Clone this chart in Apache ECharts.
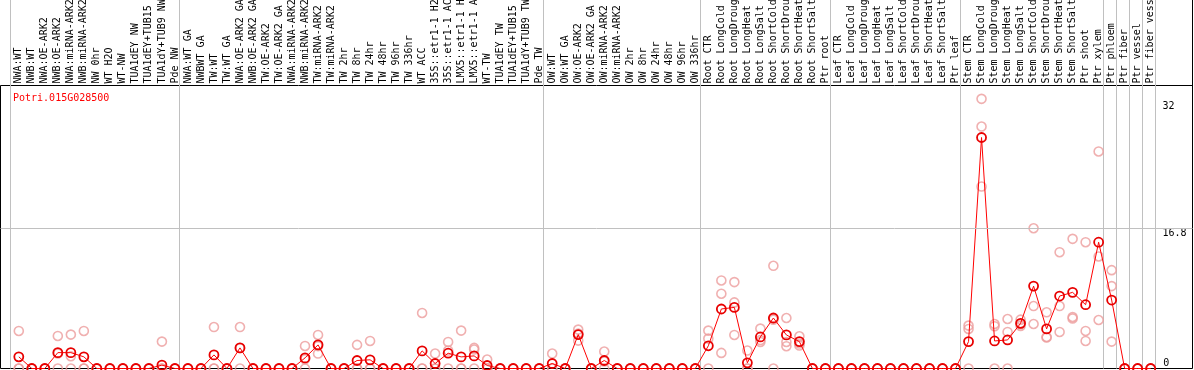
<!DOCTYPE html>
<html><head><meta charset="utf-8">
<script src="https://cdn.jsdelivr.net/npm/echarts@6/dist/echarts.min.js"></script>
<style>html,body{margin:0;padding:0;background:#fff}#c{width:1194px;height:370px}</style>
</head><body><div id="c"></div>
<script>
const geneName = 'Potri.015G028500';
const categories = [
  'NWA:WT','NWB:WT','NWA:OE-ARK2','NWB:OE-ARK2','NWA:miRNA-ARK2','NWB:miRNA-ARK2','NW 0hr','WT H2O','WT-NW','TUA1dEY NW','TUA1dEY+TUB15 NW','TUA1dY+TUB9 NW','Pde NW',
  'NWA:WT GA','NWBWT GA','TW:WT','TW:WT GA','NWA:OE-ARK2 GA','NWB:OE-ARK2 GA','TW:OE-ARK2','TW:OE-ARK2 GA','NWA:miRNA-ARK2','NWB:miRNA-ARK2','TW:miRNA-ARK2','TW:miRNA-ARK2','TW 2hr','TW 8hr','TW 24hr','TW 48hr','TW 96hr','TW 336hr','WT ACC','35S::etr1-1 H2O','35S::etr1-1 ACC','LMX5::etr1-1 H2O','LMX5::etr1-1 ACC','WT-TW','TUA1dEY TW','TUA1dEY+TUB15 TW','TUA1dY+TUB9 TW','Pde TW',
  'OW:WT','OW:WT GA','OW:OE-ARK2','OW:OE-ARK2 GA','OW:miRNA-ARK2','OW:miRNA-ARK2','OW 2hr','OW 8hr','OW 24hr','OW 48hr','OW 96hr','OW 336hr',
  'Root CTR','Root LongCold','Root LongDrought','Root LongHeat','Root LongSalt','Root ShortCold','Root ShortDrought','Root ShortHeat','Root ShortSalt','Ptr root',
  'Leaf CTR','Leaf LongCold','Leaf LongDrought','Leaf LongHeat','Leaf LongSalt','Leaf ShortCold','Leaf ShortDrought','Leaf ShortHeat','Leaf ShortSalt','Ptr leaf',
  'Stem CTR','Stem LongCold','Stem LongDrought','Stem LongHeat','Stem LongSalt','Stem ShortCold','Stem ShortDrought','Stem ShortHeat','Stem ShortSalt','Ptr shoot','Ptr xylem',
  'Ptr phloem','Ptr fiber','Ptr vessel','Ptr fiber vessel'
];
// index of the first category of each separated group
const groupStarts = [0, 13, 41, 53, 63, 73, 84, 85, 86, 87];

const meanValues = [
  1.4,0,0,1.9,1.9,1.4,0,0,0,0,0,0.4,0,
  0,0,1.63,0,2.47,0,0,0,0,1.27,2.83,0,0,0.96,1.04,0,0,0,2.11,0.6,1.83,1.39,1.51,0.36,0,0,0,0,
  0.6,0,4.06,0,0.96,0,0,0,0,0,0,0,
  2.72,7.13,7.32,0.68,3.78,6.05,4.02,3.22,0,0,
  0,0,0,0,0,0,0,0,0,0,
  3.22,27.67,3.3,3.42,5.41,9.87,4.74,8.68,9.12,7.64,15.13,
  8.2,0,0,0
];
const rep1 = [
  4.5,0,0,3.9,4.06,4.5,0,0,0,0,0,3.22,0,
  0,0,4.97,0,4.97,0,0,0,0,2.7,4.02,0,0,2.83,3.3,0,0,0,6.65,1.79,3.18,4.54,2.47,1.07,0,0,0,0,
  1.79,0,4.66,0,2.03,0,0,0,0,0,0,0,
  4.54,10.55,10.35,2.15,4.78,12.3,6.05,3.86,0,0,
  0,0,0,0,0,0,0,0,0,0,
  5.14,32.3,5.33,5.93,5.85,16.8,6.73,13.93,15.53,15.13,26.0,
  11.78,0,0,0
];
const rep2 = [
  0,0,0,1.8,1.47,0,0,0,0,0,0,0,0,
  0,0,0,0,2.45,0,0,0,0,1.1,2.68,0,0,0,0,0,0,0,0,0,2.15,0,2.27,0,0,0,0,0,
  0,0,4.2,0,0.85,0,0,0,0,0,0,0,
  3.58,8.96,7.92,0,3.4,5.85,3.18,3.0,0,0,
  0,0,0,0,0,0,0,0,0,0,
  4.74,28.98,5.07,4.38,5.3,7.48,3.78,7.48,6.17,4.5,13.42,
  9.87,0,0,0
];
const rep3 = [
  0,0,0,0,0,0,0,0,0,0,0,0,0,
  0,0,0,0,0,0,0,0,0,0,1.79,0,0,0,0,0,0,0,0,0,0,0,0,0,0,0,0,0,
  0,0,3.34,0,0,0,0,0,0,0,0,0,
  0,1.87,4.02,0,3.18,0,2.67,2.75,0,0,
  0,0,0,0,0,0,0,0,0,0,
  0,21.8,0,0,5.1,5.33,3.71,4.38,6.0,3.3,5.81,
  3.22,0,0,0
];
const yUpperTicks = [32, 16.8];
const yZeroTick = [0];
const gridLineValue = 16.8;

const FONT = 'DejaVu Sans Mono';
const Y_MAX = 33.9;
const PLOT_H = 283;
const SEP_MAX = Y_MAX * (PLOT_H + 85.5) / PLOT_H;
const BAND = 13.01;
const N = categories.length;

const chart = echarts.init(document.getElementById('c'), null, {renderer: 'canvas'});
const repStyle = {color: 'rgba(0,0,0,0)', borderColor: '#ec9c9c', borderWidth: 1.6};
function repSeries(arr) {
  return {type: 'scatter', xAxisIndex: 1, yAxisIndex: 1, data: arr, symbol: 'circle',
    symbolSize: 9, itemStyle: repStyle, clip: false, silent: true, z: 3};
}
chart.setOption({
  animation: false,
  title: {text: geneName, left: 8, top: 88,
    textStyle: {color: '#ff0000', fontSize: 10, fontFamily: FONT, fontWeight: 'normal'}},
  grid: [
    {left: 10.3, top: 0, width: BAND * N, height: PLOT_H + 85.5, outerBoundsMode: 'none', containLabel: false},
    {left: 12.3, top: 85.5, width: BAND * N, height: PLOT_H, outerBoundsMode: 'none', containLabel: false},
    {left: 0.5, top: 85.5, width: 1192, height: PLOT_H, show: true, borderColor: '#000', borderWidth: 1,
      backgroundColor: 'rgba(0,0,0,0)', outerBoundsMode: 'none', containLabel: false}
  ],
  xAxis: [
    {gridIndex: 0, type: 'category', data: categories, boundaryGap: true,
      axisLine: {show: false}, axisTick: {show: false}, axisLabel: {show: false},
      splitLine: {show: true, interval: (i) => groupStarts.includes(i), lineStyle: {color: '#c0c0c0', width: 1}}},
    {gridIndex: 1, type: 'category', data: categories, boundaryGap: true, position: 'top',
      axisLine: {show: false}, axisTick: {show: false}, splitLine: {show: false},
      axisLabel: {interval: 0, rotate: 90, margin: 2, fontSize: 10, fontFamily: FONT, color: '#000', hideOverlap: false}},
    {gridIndex: 2, type: 'value', min: 0, max: 1, show: false}
  ],
  yAxis: [
    {gridIndex: 0, type: 'value', min: 0, max: SEP_MAX, position: 'right',
      axisLine: {show: false}, axisTick: {show: false}, splitLine: {show: false},
      axisLabel: {customValues: yZeroTick, margin: 8, align: 'left', verticalAlign: 'bottom', fontSize: 10, fontFamily: FONT, color: '#000'}},
    {gridIndex: 1, type: 'value', min: 0, max: Y_MAX, show: false},
    {gridIndex: 2, type: 'value', min: 0, max: Y_MAX, position: 'right',
      axisLine: {show: false}, axisTick: {show: false}, splitLine: {show: false},
      axisLabel: {customValues: yUpperTicks, inside: true, margin: 30, align: 'left', verticalAlign: 'top', fontSize: 10, fontFamily: FONT, color: '#000'}}
  ],
  graphic: [
    {type: 'line', shape: {x1: 1192.5, y1: 0, x2: 1192.5, y2: 86}, style: {stroke: '#000', lineWidth: 1}, silent: true}
  ],
  series: [
    {type: 'line', xAxisIndex: 2, yAxisIndex: 2, data: [], silent: true,
      markLine: {silent: true, symbol: 'none', label: {show: false},
        lineStyle: {color: '#c0c0c0', type: 'solid', width: 1}, data: [{yAxis: gridLineValue}]}},
    repSeries(rep1), repSeries(rep2), repSeries(rep3),
    {type: 'line', xAxisIndex: 1, yAxisIndex: 1, data: meanValues, symbol: 'circle', symbolSize: 9,
      showAllSymbol: true, clip: false, silent: true, z: 4,
      lineStyle: {color: '#ff0000', width: 1},
      itemStyle: {color: 'rgba(0,0,0,0)', borderColor: '#e80000', borderWidth: 1.8}}
  ]
});
</script></body></html>
